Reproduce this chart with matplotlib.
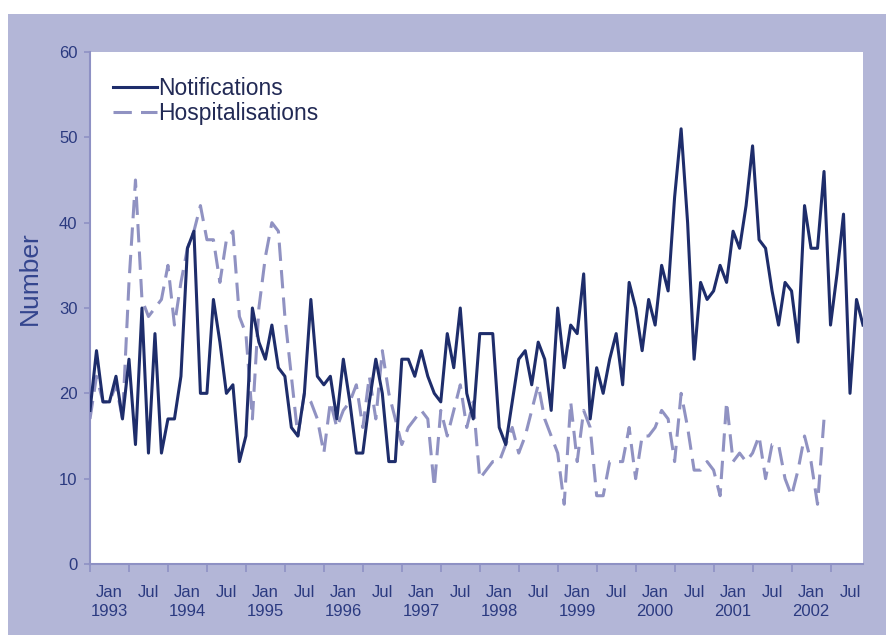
import numpy as np
import matplotlib
matplotlib.use("Agg")
import matplotlib.pyplot as plt
from matplotlib.patches import Rectangle

# monthly counts
notifications = [18, 25, 19, 19, 22, 17, 24, 14, 30, 13,
                 27, 13, 17, 17, 22, 37, 39, 20, 20, 31,
                 26, 20, 21, 12, 15, 30, 26, 24, 28, 23,
                 22, 16, 15, 20, 31, 22, 21, 22, 17, 24,
                 19, 13, 13, 19, 24, 20, 12, 12, 24, 24,
                 22, 25, 22, 20, 19, 27, 23, 30, 20, 17,
                 27, 27, 27, 16, 14, 19, 24, 25, 21, 26,
                 24, 18, 30, 23, 28, 27, 34, 17, 23, 20,
                 24, 27, 21, 33, 30, 25, 31, 28, 35, 32,
                 43, 51, 40, 24, 33, 31, 32, 35, 33, 39,
                 37, 42, 49, 38, 37, 32, 28, 33, 32, 26,
                 42, 37, 37, 46, 28, 34, 41, 20, 31, 28]

hospitalisations = [17, 22, 19, 19, 21, 17, 33, 45, 31, 29,
                    30, 31, 35, 28, 33, 37, 39, 42, 38, 38,
                    33, 38, 39, 29, 27, 17, 30, 36, 40, 39,
                    29, 22, 15, 20, 19, 17, 13, 19, 16, 18,
                    19, 21, 16, 22, 17, 25, 20, 17, 14, 16,
                    17, 18, 17, 9, 18, 15, 18, 21, 16, 19,
                    10, 11, 12, 12, 14, 16, 13, 15, 18, 21,
                    17, 15, 13, 7, 19, 12, 18, 16, 8, 8,
                    12, 12, 12, 16, 10, 15, 15, 16, 18, 17,
                    12, 20, 16, 11, 11, 12, 11, 8, 19, 12,
                    13, 12, 13, 15, 10, 14, 14, 10, 8, 11,
                    15, 12, 7, 17]

years = list(range(1993, 2003))
tick_labels = []
for y in years:
    tick_labels.append("Jan\n%d" % y)
    tick_labels.append("Jul")

navy = "#1e2d6b"
lilac = "#9092c2"
text_col = "#2b3a80"
panel = "#b3b6d7"
axis_col = "#8e91c4"
font = "Liberation Sans"

n = len(notifications)
x = np.arange(n)
hosp = np.full(n, np.nan)
hosp[:len(hospitalisations)] = hospitalisations

fig = plt.figure(figsize=(8.87, 6.35), dpi=100)
fig.patch.set_facecolor("white")
# lavender panel behind the chart
fig.patches.append(Rectangle((8 / 887, 0), 1, 1 - 14 / 635, transform=fig.transFigure,
                             facecolor=panel, edgecolor="none", zorder=-1))

ax = fig.add_axes([90 / 887, 1 - 564 / 635, 773 / 887, 512 / 635])
ax.set_facecolor("white")

ax.plot(x, notifications, color=navy, lw=2.2, label="Notifications", zorder=3)
ax.plot(x, hosp, color=lilac, lw=2.2, dashes=(6, 3), label="Hospitalisations", zorder=2)

ax.set_ylim(0, 60)
ax.set_xlim(0, n - 1)
ax.set_yticks(np.arange(0, 61, 10))

# tick marks every 6 months, labels centred between them
ax.set_xticks(np.arange(0, n, 6))
ax.set_xticklabels([])
ax.set_xticks(np.arange(3, n, 6), minor=True)
ax.set_xticklabels(tick_labels, minor=True)
ax.tick_params(axis="x", which="minor", length=0, pad=15)
ax.tick_params(axis="x", which="major", length=6, color=axis_col, width=1.2)
ax.tick_params(axis="y", length=4, color=axis_col, width=1.2, pad=5)

for lab in ax.get_xticklabels(minor=True):
    lab.set_fontsize(12)
    lab.set_color(text_col)
    lab.set_family(font)
    lab.set_linespacing(1.35)
for lab in ax.get_yticklabels():
    lab.set_fontsize(12)
    lab.set_color(text_col)
    lab.set_family(font)

for s in ["top", "right"]:
    ax.spines[s].set_visible(False)
for s in ["left", "bottom"]:
    ax.spines[s].set_color(axis_col)
    ax.spines[s].set_linewidth(1.5)

ax.set_ylabel("Number", fontsize=19, color="#34458e", family=font)
ax.yaxis.set_label_coords(-0.062, 0.559)

leg = ax.legend(loc="upper left", bbox_to_anchor=(0.03, 0.952), frameon=False,
                borderaxespad=0, borderpad=0,
                handlelength=1.9, handletextpad=0.05, labelspacing=0.12,
                prop={"family": font, "size": 16.5})
for t in leg.get_texts():
    t.set_color("#222a55")

fig.savefig("out.png", dpi=100, facecolor=fig.get_facecolor())
